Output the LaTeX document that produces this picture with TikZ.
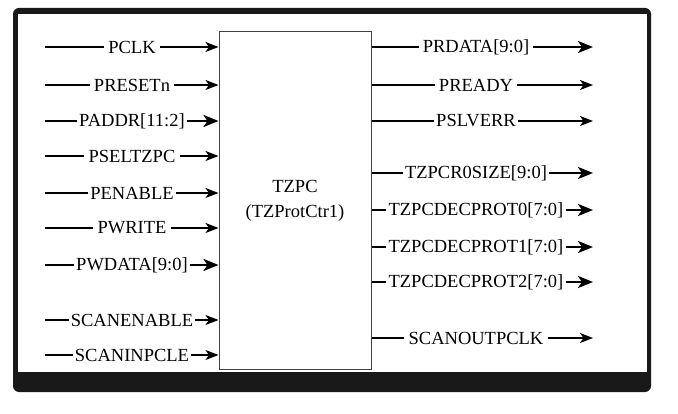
\documentclass[tikz,border=0pt]{standalone}
\usepackage{fontspec}
\setmainfont{Liberation Serif}
\usetikzlibrary{arrows.meta, positioning}

\tikzset{
  sig/.style={font=\fontsize{18.5}{22}\selectfont, inner sep=4pt},
  wire/.style={line width=1.4pt},
  bus/.style={line width=2.8pt},
  tipthin/.style={-{Stealth[length=13pt, width=10pt, inset=3.5pt]}},
  tipbus/.style={-{Stealth[length=15pt, width=12pt, inset=4pt]}}
}

\begin{document}
\begin{tikzpicture}[x=1pt, y=-1pt]
  \useasboundingbox[fill=white] (0,0) rectangle (678,414);

  % Frame
  \fill[black!90, rounded corners=6pt] (13,8) rectangle (651,392);
  \fill[white] (18,14) rectangle (647,372);

  % TZPC block
  \node[draw=black!75, line width=1pt, minimum width=152pt, minimum height=337pt] (tzpc) at (295,200.5) {};
  \node[font=\fontsize{18.5}{25}\selectfont, align=center] (tzpcname) at (tzpc.center) {TZPC\\(TZProtCtr1)};

  % Inputs
  \coordinate (pclkin) at (45,47);
  \node[sig] (pclk) at (132,47) {PCLK};
  \draw[wire] (pclkin) -- (pclk);
  \draw[wire, tipthin] (pclk) -- (pclk -| tzpc.west);

  \coordinate (presetin) at (45,85);
  \node[sig] (preset) at (132,85) {PRESETn};
  \draw[wire] (presetin) -- (preset);
  \draw[wire, tipthin] (preset) -- (preset -| tzpc.west);

  \coordinate (paddrin) at (45,121);
  \node[sig, inner sep=2pt] (paddr) at (132,121) {PADDR[11:2]};
  \draw[bus] (paddrin) -- (paddr);
  \draw[bus, tipbus] (paddr) -- (paddr -| tzpc.west);

  \coordinate (pselin) at (45,156);
  \node[sig] (psel) at (132,156) {PSELTZPC};
  \draw[wire] (pselin) -- (psel);
  \draw[wire, tipthin] (psel) -- (psel -| tzpc.west);

  \coordinate (penin) at (45,193);
  \node[sig, inner sep=2pt] (penable) at (132,193) {PENABLE};
  \draw[wire] (penin) -- (penable);
  \draw[wire, tipthin] (penable) -- (penable -| tzpc.west);

  \coordinate (pwritein) at (45,228);
  \node[sig] (pwrite) at (132,228) {PWRITE};
  \draw[wire] (pwritein) -- (pwrite);
  \draw[wire, tipthin] (pwrite) -- (pwrite -| tzpc.west);

  \coordinate (pwdatain) at (45,265);
  \node[sig, inner sep=2pt] (pwdata) at (132,265) {PWDATA[9:0]};
  \draw[bus] (pwdatain) -- (pwdata);
  \draw[bus, tipbus] (pwdata) -- (pwdata -| tzpc.west);

  \coordinate (scanenin) at (45,320);
  \node[sig, inner sep=2pt] (scanen) at (132,320) {SCANENABLE};
  \draw[wire] (scanenin) -- (scanen);
  \draw[wire, tipthin] (scanen) -- (scanen -| tzpc.west);

  \coordinate (scaninin) at (45,355);
  \node[sig, inner sep=2pt] (scanin) at (132,355) {SCANINPCLE};
  \draw[wire] (scaninin) -- (scanin);
  \draw[wire, tipthin] (scanin) -- (scanin -| tzpc.west);

  % Outputs
  \node[sig] (prdata) at (476,47) {PRDATA[9:0]};
  \coordinate (prdataout) at (593,47);
  \draw[bus] (prdata -| tzpc.east) -- (prdata);
  \draw[bus, tipbus] (prdata) -- (prdataout);

  \node[sig] (pready) at (476,85) {PREADY};
  \coordinate (preadyout) at (593,85);
  \draw[wire] (pready -| tzpc.east) -- (pready);
  \draw[wire, tipthin] (pready) -- (preadyout);

  \node[sig, inner sep=2pt] (pslverr) at (476,121) {PSLVERR};
  \coordinate (pslverrout) at (593,121);
  \draw[wire] (pslverr -| tzpc.east) -- (pslverr);
  \draw[wire, tipthin] (pslverr) -- (pslverrout);

  \node[sig, inner sep=2pt] (r0size) at (476,173) {TZPCR0SIZE[9:0]};
  \coordinate (r0sizeout) at (593,173);
  \draw[bus] (r0size -| tzpc.east) -- (r0size);
  \draw[bus, tipbus] (r0size) -- (r0sizeout);

  \node[sig, inner sep=2pt] (decprot0) at (476,210) {TZPCDECPROT0[7:0]};
  \coordinate (decprot0out) at (593,210);
  \draw[bus] (decprot0 -| tzpc.east) -- (decprot0);
  \draw[bus, tipbus] (decprot0) -- (decprot0out);

  \node[sig, inner sep=2pt] (decprot1) at (476,247) {TZPCDECPROT1[7:0]};
  \coordinate (decprot1out) at (593,247);
  \draw[bus] (decprot1 -| tzpc.east) -- (decprot1);
  \draw[bus, tipbus] (decprot1) -- (decprot1out);

  \node[sig, inner sep=2pt] (decprot2) at (476,282) {TZPCDECPROT2[7:0]};
  \coordinate (decprot2out) at (593,282);
  \draw[bus] (decprot2 -| tzpc.east) -- (decprot2);
  \draw[bus, tipbus] (decprot2) -- (decprot2out);

  \node[sig] (scanout) at (476,338) {SCANOUTPCLK};
  \coordinate (scanoutout) at (593,338);
  \draw[wire] (scanout -| tzpc.east) -- (scanout);
  \draw[wire, tipthin] (scanout) -- (scanoutout);
\end{tikzpicture}
\end{document}
